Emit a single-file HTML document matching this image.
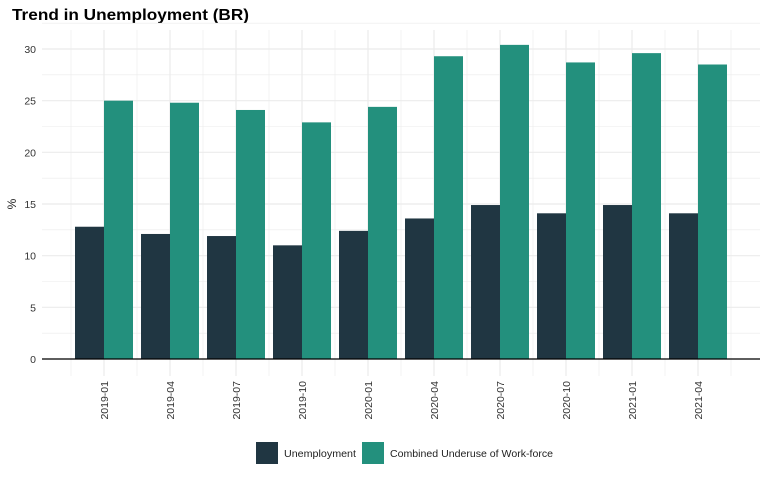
<!DOCTYPE html>
<html><head><meta charset="utf-8"><style>
body{margin:0;background:#fff;font-family:"Liberation Sans",sans-serif}
</style></head><body>
<svg id="chart" width="768" height="480" xmlns="http://www.w3.org/2000/svg" font-family="Liberation Sans, sans-serif">
<text x="12" y="20" font-size="16" font-weight="bold" fill="#000" textLength="237" lengthAdjust="spacingAndGlyphs">Trend in Unemployment (BR)</text>
<g id="grid"></g><g id="bars"></g><g id="axes"></g>
<text transform="translate(16,204) rotate(-90)" text-anchor="middle" font-size="12" fill="#222">%</text>
<g>
<rect x="256" y="442" width="22" height="22" fill="#203642"/>
<text x="284" y="457" font-size="10" fill="#222" textLength="72" lengthAdjust="spacingAndGlyphs">Unemployment</text>
<rect x="362" y="442" width="22" height="22" fill="#23907d"/>
<text x="390" y="457" font-size="10" fill="#222" textLength="163" lengthAdjust="spacingAndGlyphs">Combined Underuse of Work-force</text>
</g>
</svg>
<script>
const categories=["2019-01","2019-04","2019-07","2019-10","2020-01","2020-04","2020-07","2020-10","2021-01","2021-04"];
const unemployment=[12.8,12.1,11.9,11.0,12.4,13.6,14.9,14.1,14.9,14.1];
const underuse=[25.0,24.8,24.1,22.9,24.4,29.3,30.4,28.7,29.6,28.5];
const yTicks=[0,5,10,15,20,25,30];
const NS="http://www.w3.org/2000/svg";
const y=v=>359-v*(310/30);
const xc=i=>104+i*66;
function mk(t,a,p){const e=document.createElementNS(NS,t);for(const k in a)e.setAttribute(k,a[k]);p.appendChild(e);return e;}
const grid=document.getElementById('grid'),bars=document.getElementById('bars'),axes=document.getElementById('axes');
for(let v=0;v<=32.5;v+=2.5){const l=mk('line',{x1:42,x2:760,y1:y(v),y2:y(v),stroke:'#ebebeb','stroke-width':v%5===0?1.2:0.6},grid);

}
for(let i=-0.5;i<categories.length;i+=0.5){const l=mk('line',{x1:xc(i),x2:xc(i),y1:30,y2:376,stroke:'#ebebeb','stroke-width':Number.isInteger(i)?1.2:0.6},grid);

}
categories.forEach((c,i)=>{
const a=mk('rect',{x:xc(i)-29,y:y(unemployment[i]),width:29,height:y(0)-y(unemployment[i]),fill:'#203642'},bars);


const b=mk('rect',{x:xc(i),y:y(underuse[i]),width:29,height:y(0)-y(underuse[i]),fill:'#23907d'},bars);


const t=mk('text',{transform:`translate(${xc(i)+4},381) rotate(-90)`,'text-anchor':'end','font-size':10.5,fill:'#333'},axes);
t.textContent=c;


});
yTicks.forEach(v=>{const t=mk('text',{x:36,y:y(v)+4,'text-anchor':'end','font-size':10.5,fill:'#333'},axes);t.textContent=v;

});
const ax=mk('line',{x1:42,x2:760,y1:y(0),y2:y(0),stroke:'#000','stroke-width':1.2},axes);


</script>
</body></html>
